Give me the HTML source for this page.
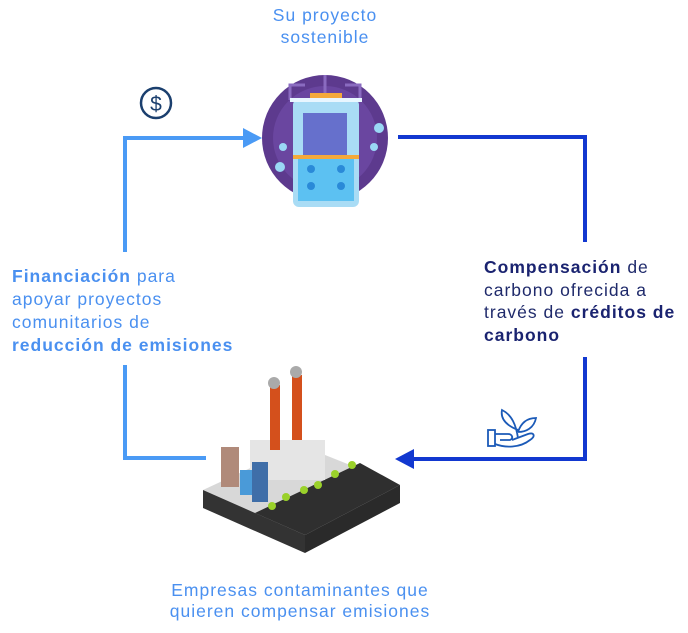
<!DOCTYPE html>
<html><head><meta charset="utf-8"><style>
body{margin:0;width:688px;height:633px;background:#fff;position:relative;overflow:hidden;font-family:"Liberation Sans",sans-serif}
.t{position:absolute;font-size:17.5px;line-height:23px;color:#4a90f0;letter-spacing:1px;white-space:nowrap}
b{font-weight:bold}
</style></head><body>
<svg width="688" height="633" style="position:absolute;left:0;top:0">
<g stroke="#4a9af5" stroke-width="4" fill="none">
<polyline points="125,252 125,138 245,138"/>
<polyline points="125,365 125,458 206,458"/>
</g>
<polygon points="243,128 262,138 243,148" fill="#4a9af5"/>
<g stroke="#1238d0" stroke-width="4" fill="none">
<polyline points="398,137 585,137 585,242"/>
<polyline points="585,357 585,459 412,459"/>
</g>
<polygon points="414,449 395,459 414,469" fill="#1238d0"/>
<circle cx="156" cy="103" r="15" fill="none" stroke="#1b3f6e" stroke-width="2.5"/>
<text x="156" y="111" text-anchor="middle" font-size="21" fill="#1b3f6e" font-family="Liberation Sans">$</text>
<circle cx="325" cy="138" r="63" fill="#5d3a8e"/>
<circle cx="325" cy="138" r="52" fill="#6a46a0"/>
<path d="M325 75 V100 M305 85 H290 V100 M345 85 H360 V100" stroke="#8a6bc0" stroke-width="3" fill="none"/>
<rect x="310" y="93" width="32" height="6" fill="#f4a93a"/>
<rect x="293" y="99" width="66" height="108" rx="6" fill="#a9dcf5"/>
<rect x="290" y="98" width="72" height="4" fill="#e8f6ff"/>
<rect x="303" y="113" width="44" height="42" fill="#6670cc"/>
<rect x="293" y="155" width="66" height="4" fill="#f4a93a"/>
<rect x="298" y="159" width="56" height="42" fill="#5cc1f2"/>
<circle cx="311" cy="169" r="4" fill="#2a8ad8"/><circle cx="341" cy="169" r="4" fill="#2a8ad8"/>
<circle cx="311" cy="186" r="4" fill="#2a8ad8"/><circle cx="341" cy="186" r="4" fill="#2a8ad8"/>
<circle cx="379" cy="128" r="5" fill="#9ad8f5"/><circle cx="374" cy="147" r="4" fill="#9ad8f5"/>
<circle cx="283" cy="147" r="4" fill="#9ad8f5"/><circle cx="280" cy="167" r="5" fill="#9ad8f5"/>
<polygon points="203,490 300,445 400,485 305,535" fill="#d8d8d8"/>
<polygon points="203,490 305,535 305,553 203,508" fill="#333"/>
<polygon points="305,535 400,485 400,503 305,553" fill="#2a2a2a"/>
<polygon points="255,513 360,463 400,485 305,535" fill="#2f2f2f"/>
<rect x="250" y="440" width="75" height="40" fill="#e5e5e5"/>
<rect x="270" y="385" width="10" height="65" fill="#d4501c"/>
<rect x="292" y="375" width="10" height="65" fill="#d4501c"/>
<circle cx="274" cy="383" r="6" fill="#aaa"/><circle cx="296" cy="372" r="6" fill="#aaa"/>
<rect x="221" y="447" width="18" height="40" fill="#b08a7a"/>
<rect x="240" y="470" width="14" height="25" fill="#4a9ad8"/>
<rect x="252" y="462" width="16" height="40" fill="#3f6ea8"/>
<g fill="#9ad12a"><circle cx="272" cy="506" r="4"/><circle cx="286" cy="497" r="4"/><circle cx="304" cy="490" r="4"/><circle cx="318" cy="485" r="4"/><circle cx="335" cy="474" r="4"/><circle cx="352" cy="465" r="4"/></g>
<g stroke="#1b5ab8" stroke-width="1.8" fill="none">
<path d="M518 438 C516 425 512 415 502 410 C500 420 508 426 518 430"/>
<path d="M518 432 C522 420 530 418 536 418 C534 428 526 432 518 432"/>
<rect x="488" y="430" width="7" height="16"/>
<path d="M495 434 H508 C512 434 514 438 510 440 H500 M495 444 C505 448 520 448 530 440 C536 436 534 432 528 434 L512 440"/>
</g>
</svg>
<div class="t" style="left:225px;top:4px;width:200px;text-align:center;line-height:22px">Su proyecto<br>sostenible</div>
<div class="t" style="left:12px;top:265px;width:260px"><b>Financiación</b> para<br>apoyar proyectos<br>comunitarios de<br><b>reducción de emisiones</b></div>
<div class="t" style="left:484px;top:256px;width:210px;color:#1f2a6b;line-height:22.5px"><b style="color:#1a2370">Compensación</b> de<br>carbono ofrecida a<br>través de <b style="color:#1a2370">créditos de<br>carbono</b></div>
<div class="t" style="left:100px;top:580px;width:400px;text-align:center;line-height:21px">Empresas contaminantes que<br>quieren compensar emisiones</div>
</body></html>
